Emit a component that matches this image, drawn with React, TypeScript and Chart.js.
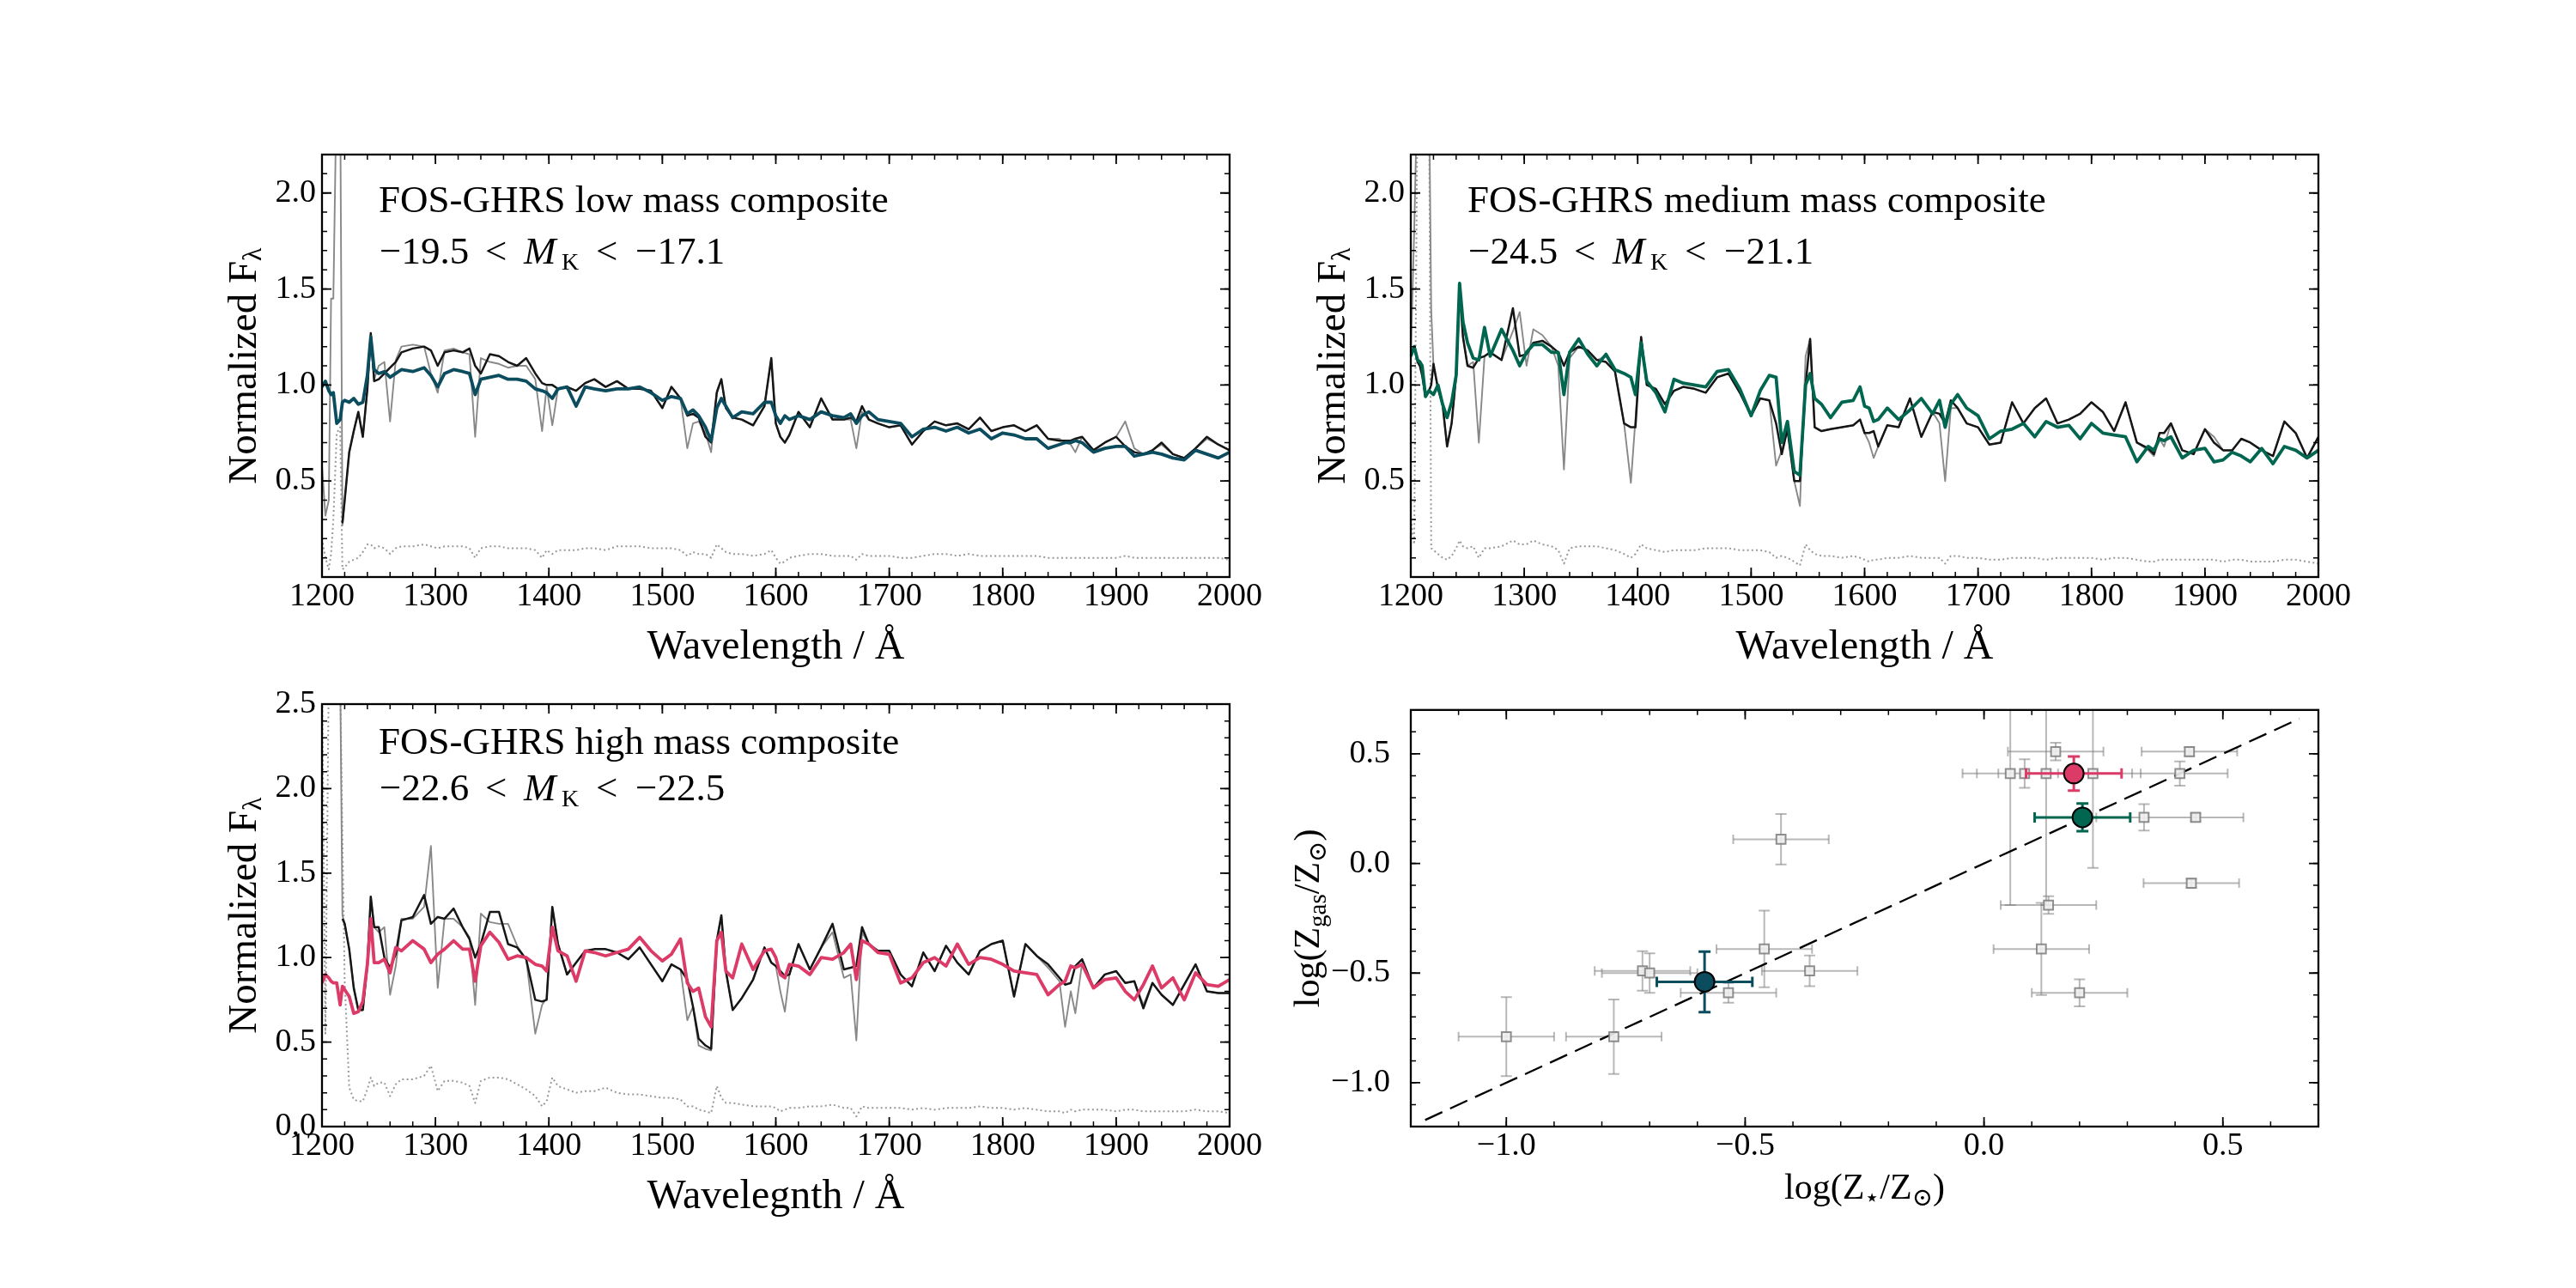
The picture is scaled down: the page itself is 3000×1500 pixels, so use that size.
import React, { useEffect, useRef } from "react";
import { Chart, registerables } from "chart.js";

Chart.register(...registerables);

// ---------------- DATA ----------------
const wavelengths = [
  1200, 1203, 1206, 1208, 1210, 1213, 1216, 1218, 1220, 1224,
  1228, 1232, 1236, 1240, 1243, 1246, 1250, 1255, 1260, 1265,
  1270, 1280, 1290, 1296, 1302, 1308, 1316, 1324, 1330, 1335,
  1340, 1348, 1356, 1364, 1372, 1380, 1388, 1394, 1398, 1403,
  1408, 1416, 1424, 1432, 1440, 1450, 1460, 1470, 1480, 1490,
  1500, 1508, 1516, 1522, 1527, 1532, 1538, 1543, 1548, 1552,
  1556, 1562, 1570, 1580, 1590, 1596, 1600, 1604, 1608, 1612,
  1620, 1630, 1640, 1650, 1660, 1666, 1671, 1676, 1682, 1690,
  1700, 1710, 1720, 1730, 1740, 1750, 1760, 1770, 1780, 1790,
  1800, 1810, 1820, 1830, 1840, 1850, 1855, 1860, 1864, 1870,
  1880, 1890, 1900, 1908, 1916, 1924, 1932, 1940, 1950, 1960,
  1970, 1980, 1990, 2000,
];

// low mass composite
const lowModel = [
  0.99, 1.02, 0.97, 0.95, 0.96, 0.80, 0.82, 0.91, 0.92, 0.91,
  0.93, 0.90, 0.91, 1.05, 1.25, 1.08, 1.06, 1.07, 1.04, 1.06,
  1.08, 1.07, 1.09, 1.05, 0.99, 1.06, 1.08, 1.07, 1.06, 0.95,
  1.03, 1.04, 1.05, 1.03, 1.03, 1.02, 0.98, 0.97, 0.96, 0.93,
  0.98, 0.99, 0.89, 0.99, 0.98, 0.97, 0.98, 0.98, 0.99, 0.96,
  0.92, 0.94, 0.93, 0.85, 0.87, 0.84, 0.78, 0.71, 0.88, 0.93,
  0.89, 0.83, 0.86, 0.85, 0.91, 0.91, 0.84, 0.80, 0.84, 0.82,
  0.84, 0.82, 0.86, 0.84, 0.83, 0.85, 0.80, 0.84, 0.86, 0.82,
  0.81, 0.80, 0.73, 0.77, 0.78, 0.76, 0.78, 0.75, 0.77, 0.72,
  0.75, 0.74, 0.72, 0.72, 0.67, 0.69, 0.70, 0.70, 0.71, 0.70,
  0.65, 0.67, 0.68, 0.68, 0.63, 0.64, 0.65, 0.64, 0.62, 0.61,
  0.66, 0.64, 0.62, 0.65,
];
const lowObserved = [
  null, null, null, null, null, null, null, 0.28, 0.40, 0.65,
  0.76, 0.86, 0.73, 0.98, 1.27, 1.02, 1.03, 1.06, 1.09, 1.12,
  1.17, 1.19, 1.20, 1.18, 1.10, 1.17, 1.18, 1.17, 1.19, 1.10,
  1.06, 1.16, 1.15, 1.12, 1.10, 1.14, 1.06, 1.01, 1.00, 1.00,
  0.98, 0.99, 0.97, 1.01, 1.03, 0.99, 1.02, 0.98, 0.98, 0.97,
  0.88, 0.99, 0.93, 0.84, 0.85, 0.83, 0.73, 0.70, 0.96, 1.03,
  0.88, 0.83, 0.82, 0.79, 0.89, 1.14, 0.80, 0.73, 0.70, 0.74,
  0.86, 0.78, 0.93, 0.82, 0.82, 0.83, 0.81, 0.89, 0.82, 0.80,
  0.78, 0.79, 0.69, 0.76, 0.81, 0.79, 0.80, 0.77, 0.83, 0.76,
  0.78, 0.79, 0.76, 0.79, 0.72, 0.71, 0.71, 0.71, 0.72, 0.73,
  0.66, 0.70, 0.73, 0.68, 0.65, 0.64, 0.66, 0.70, 0.64, 0.62,
  0.67, 0.73, 0.69, 0.66,
];
const lowFosGhrs = [
  0.58, 0.32, 0.40, 1.45, 1.45, 2.6, 2.6, 0.27, 0.40, 0.65,
  0.76, 0.86, 0.73, 0.98, 1.27, 1.03, 1.10, 1.12, 0.81, 1.13,
  1.20, 1.21, 1.20, 1.06, 0.96, 1.18, 1.19, 1.17, 1.16, 0.73,
  1.14, 1.12, 1.11, 1.09, 1.10, 1.10, 1.03, 0.76, 0.99, 0.79,
  0.98, 0.99, 0.97, 1.01, 1.03, 0.99, 1.02, 0.98, 0.98, 0.97,
  0.88, 0.99, 0.93, 0.67, 0.80, 0.81, 0.75, 0.65, 0.97, 1.03,
  0.88, 0.83, 0.82, 0.79, 0.89, 1.14, 0.80, 0.73, 0.70, 0.74,
  0.86, 0.78, 0.93, 0.82, 0.82, 0.82, 0.67, 0.86, 0.82, 0.80,
  0.78, 0.79, 0.69, 0.76, 0.81, 0.79, 0.80, 0.77, 0.83, 0.76,
  0.78, 0.79, 0.76, 0.79, 0.72, 0.72, 0.70, 0.69, 0.65, 0.73,
  0.66, 0.70, 0.73, 0.81, 0.67, 0.64, 0.66, 0.69, 0.64, 0.62,
  0.67, 0.72, 0.69, 0.66,
];
const lowError = [
  0.20, 0.10, 0.04, 0.12, 0.30, 0.75, 0.78, 0.04, 0.05, 0.08,
  0.09, 0.10, 0.13, 0.17, 0.17, 0.15, 0.16, 0.15, 0.12, 0.15,
  0.16, 0.16, 0.17, 0.16, 0.15, 0.16, 0.16, 0.16, 0.15, 0.10,
  0.15, 0.16, 0.16, 0.15, 0.15, 0.15, 0.14, 0.10, 0.14, 0.12,
  0.14, 0.14, 0.14, 0.15, 0.15, 0.14, 0.16, 0.16, 0.16, 0.15,
  0.15, 0.15, 0.14, 0.11, 0.13, 0.12, 0.12, 0.10, 0.17, 0.15,
  0.13, 0.12, 0.12, 0.11, 0.12, 0.14, 0.10, 0.07, 0.08, 0.10,
  0.11, 0.12, 0.12, 0.11, 0.11, 0.11, 0.09, 0.12, 0.11, 0.11,
  0.11, 0.10, 0.10, 0.11, 0.12, 0.12, 0.11, 0.12, 0.11, 0.11,
  0.11, 0.11, 0.11, 0.11, 0.10, 0.10, 0.10, 0.10, 0.10, 0.10,
  0.10, 0.10, 0.10, 0.11, 0.10, 0.10, 0.10, 0.10, 0.10, 0.10,
  0.10, 0.10, 0.10, 0.09,
];

// medium mass composite
const mediumModel = [
  1.15, 1.20, 1.13, 1.12, 1.10, 0.94, 0.97, 0.96, 0.95, 1.00,
  0.90, 0.83, 0.91, 1.05, 1.53, 1.33, 1.22, 1.14, 1.13, 1.30,
  1.15, 1.29, 1.18, 1.10, 1.17, 1.21, 1.21, 1.17, 1.17, 0.95,
  1.17, 1.24, 1.16, 1.10, 1.16, 1.08, 1.06, 1.04, 0.95, 1.22,
  1.02, 0.96, 0.86, 1.03, 1.01, 1.00, 0.99, 1.07, 1.08, 0.98,
  0.84, 0.97, 1.05, 1.04, 0.70, 0.81, 0.55, 0.53, 1.00, 1.06,
  0.93, 0.90, 0.83, 0.91, 0.92, 0.99, 0.89, 0.88, 0.81, 0.82,
  0.88, 0.82, 0.87, 0.93, 0.85, 0.92, 0.78, 0.90, 0.95, 0.88,
  0.84, 0.72, 0.76, 0.77, 0.80, 0.73, 0.81, 0.78, 0.79, 0.72,
  0.80, 0.75, 0.74, 0.73, 0.60, 0.68, 0.66, 0.72, 0.71, 0.73,
  0.62, 0.66, 0.67, 0.60, 0.61, 0.65, 0.63, 0.60, 0.67, 0.59,
  0.68, 0.66, 0.62, 0.66,
];
const mediumObserved = [
  1.15, 1.20, 1.12, 1.10, 1.05, 0.94, 0.97, 1.00, 1.11, 0.98,
  0.90, 0.68, 0.80, 1.05, 1.50, 1.25, 1.10, 1.09, 1.14, 1.15,
  1.17, 1.13, 1.40, 1.15, 1.16, 1.22, 1.23, 1.20, 1.17, 1.10,
  1.17, 1.20, 1.18, 1.13, 1.12, 1.07, 0.80, 0.78, 0.78, 1.25,
  1.00, 0.98, 0.90, 0.97, 0.99, 0.98, 0.96, 1.04, 1.06, 0.96,
  0.84, 0.93, 0.92, 0.80, 0.64, 0.77, 0.50, 0.50, 1.00, 1.24,
  0.78, 0.76, 0.77, 0.78, 0.79, 0.82, 0.75, 0.75, 0.76, 0.68,
  0.79, 0.78, 0.93, 0.73, 0.86, 0.85, 0.80, 0.92, 0.88, 0.80,
  0.78, 0.69, 0.70, 0.91, 0.80, 0.88, 0.93, 0.80, 0.82, 0.85,
  0.91, 0.86, 0.76, 0.91, 0.70, 0.67, 0.64, 0.75, 0.75, 0.80,
  0.66, 0.64, 0.77, 0.70, 0.66, 0.66, 0.72, 0.70, 0.66, 0.63,
  0.81, 0.75, 0.62, 0.73,
];
const mediumFosGhrs = [
  1.15, 1.80, 2.6, 2.6, 2.6, 2.6, 2.6, 1.39, 1.10, 0.98,
  0.90, 0.68, 0.80, 1.05, 1.50, 1.25, 1.10, 1.12, 0.70, 1.15,
  1.17, 1.13, 1.28, 1.38, 1.10, 1.29, 1.26, 1.20, 1.10, 0.56,
  1.14, 1.20, 1.18, 1.13, 1.15, 1.07, 0.80, 0.49, 0.82, 1.25,
  1.00, 0.98, 0.90, 0.97, 0.99, 0.98, 0.96, 1.04, 1.06, 0.96,
  0.84, 0.93, 0.92, 0.58, 0.66, 0.77, 0.50, 0.37, 1.15, 1.24,
  0.78, 0.76, 0.77, 0.78, 0.79, 0.82, 0.75, 0.70, 0.62, 0.68,
  0.79, 0.78, 0.93, 0.73, 0.86, 0.80, 0.50, 0.88, 0.88, 0.80,
  0.78, 0.69, 0.70, 0.91, 0.80, 0.88, 0.93, 0.80, 0.82, 0.85,
  0.91, 0.86, 0.76, 0.91, 0.70, 0.66, 0.63, 0.72, 0.68, 0.80,
  0.66, 0.64, 0.77, 0.73, 0.66, 0.66, 0.72, 0.70, 0.66, 0.63,
  0.81, 0.75, 0.62, 0.73,
];
const mediumError = [
  0.30, 0.17, 2.6, 2.6, 2.6, 2.6, 2.6, 0.15, 0.14, 0.12,
  0.10, 0.09, 0.11, 0.15, 0.19, 0.16, 0.15, 0.16, 0.10, 0.15,
  0.15, 0.16, 0.19, 0.17, 0.17, 0.19, 0.17, 0.16, 0.14, 0.07,
  0.15, 0.16, 0.16, 0.16, 0.15, 0.14, 0.12, 0.10, 0.12, 0.17,
  0.15, 0.14, 0.13, 0.14, 0.14, 0.14, 0.15, 0.15, 0.15, 0.14,
  0.14, 0.14, 0.13, 0.10, 0.11, 0.10, 0.08, 0.06, 0.17, 0.14,
  0.12, 0.11, 0.11, 0.10, 0.11, 0.10, 0.09, 0.08, 0.09, 0.09,
  0.10, 0.10, 0.11, 0.10, 0.10, 0.10, 0.07, 0.11, 0.11, 0.10,
  0.10, 0.09, 0.09, 0.10, 0.10, 0.10, 0.09, 0.10, 0.10, 0.10,
  0.10, 0.09, 0.10, 0.10, 0.09, 0.08, 0.08, 0.09, 0.09, 0.09,
  0.09, 0.09, 0.09, 0.09, 0.08, 0.09, 0.09, 0.08, 0.08, 0.08,
  0.09, 0.09, 0.08, 0.07,
];

// high mass composite
const highModel = [
  0.85, 0.90, 0.88, 0.86, 0.85, 0.85, 0.72, 0.83, 0.81, 0.77,
  0.67, 0.68, 0.74, 0.96, 1.23, 0.97, 0.97, 0.99, 0.91, 1.06,
  1.04, 1.10, 1.05, 0.97, 1.02, 1.05, 1.10, 1.05, 1.05, 0.86,
  1.07, 1.15, 1.09, 0.99, 1.01, 1.00, 0.96, 0.95, 0.92, 1.18,
  1.04, 1.01, 0.86, 1.04, 1.03, 1.01, 1.03, 1.05, 1.12, 1.04,
  0.98, 1.02, 1.11, 0.85, 0.80, 0.82, 0.65, 0.59, 1.10, 1.15,
  0.92, 0.88, 1.08, 0.93, 1.04, 1.05, 1.00, 0.90, 0.88, 0.96,
  0.95, 0.90, 1.00, 0.99, 1.03, 1.08, 0.87, 1.10, 1.08, 1.03,
  1.02, 0.85, 0.88, 0.97, 1.00, 0.95, 1.08, 0.96, 1.00, 0.99,
  0.96, 0.92, 0.91, 0.90, 0.78, 0.84, 0.86, 0.95, 0.94, 0.96,
  0.82, 0.87, 0.88, 0.80, 0.75, 0.84, 0.95, 0.82, 0.88, 0.75,
  0.91, 0.84, 0.83, 0.87,
];
const highObserved = [
  null, null, null, null, null, null, null, 1.23, 1.20, 1.05,
  0.82, 0.69, 0.69, 0.96, 1.36, 1.18, 1.18, 1.00, 0.94, 1.02,
  1.22, 1.24, 1.37, 1.20, 1.24, 1.23, 1.29, 1.18, 1.11, 1.00,
  1.08, 1.27, 1.27, 1.08, 1.06, 0.99, 0.75, 0.74, 0.75, 1.30,
  1.08, 0.90, 0.97, 1.04, 1.05, 1.05, 1.03, 0.99, 1.06, 0.96,
  0.86, 0.96, 0.93, 0.87, 0.71, 0.52, 0.48, 0.46, 1.10, 1.25,
  0.92, 0.69, 0.76, 0.87, 1.06, 0.97, 0.95, 0.92, 0.89, 0.90,
  1.08, 0.93, 1.06, 1.20, 0.93, 0.94, 0.95, 1.18, 1.08, 1.04,
  1.04, 0.90, 0.83, 1.03, 0.92, 1.07, 0.97, 0.90, 1.04, 1.08,
  1.10, 0.77, 1.08, 1.01, 0.96, 0.88, 0.84, 0.85, 0.95, 0.99,
  0.82, 0.90, 0.92, 0.85, 0.86, 0.70, 0.85, 0.78, 0.72, 0.84,
  0.96, 0.80, 0.79, 0.79,
];
const highFosGhrs = [
  2.7, 2.7, 2.7, 2.7, 2.7, 2.7, 2.7, 1.25, 1.20, 1.05,
  0.82, 0.69, 0.69, 0.96, 1.36, 1.18, 1.15, 1.18, 0.78, 0.95,
  1.23, 1.23, 1.30, 1.66, 0.82, 1.23, 1.23, 1.18, 1.12, 0.72,
  1.26, 1.21, 1.20, 1.20, 1.07, 0.99, 0.55, 0.72, 0.76, 1.30,
  1.08, 0.90, 0.97, 1.04, 1.05, 1.05, 1.03, 0.99, 1.06, 0.96,
  0.86, 0.96, 0.93, 0.63, 0.71, 0.48, 0.46, 0.45, 1.10, 1.25,
  0.92, 0.69, 0.76, 0.87, 1.06, 0.97, 0.95, 0.80, 0.68, 0.90,
  1.08, 0.93, 1.06, 1.15, 0.88, 0.90, 0.51, 1.15, 1.08, 1.04,
  1.04, 0.90, 0.83, 1.03, 0.92, 1.07, 0.97, 0.90, 1.04, 1.08,
  1.10, 0.77, 1.08, 1.01, 0.94, 0.86, 0.59, 0.80, 0.67, 0.97,
  0.82, 0.90, 0.92, 0.85, 0.86, 0.72, 0.85, 0.78, 0.72, 0.84,
  0.96, 0.80, 0.79, 0.79,
];
const highError = [
  2.7, 0.55, 2.7, 2.7, 2.7, 2.7, 2.7, 1.70, 0.86, 0.23,
  0.16, 0.15, 0.15, 0.22, 0.29, 0.24, 0.26, 0.26, 0.18, 0.25,
  0.28, 0.28, 0.30, 0.36, 0.21, 0.27, 0.27, 0.26, 0.24, 0.14,
  0.27, 0.29, 0.29, 0.28, 0.25, 0.22, 0.18, 0.12, 0.15, 0.29,
  0.24, 0.22, 0.20, 0.21, 0.21, 0.23, 0.20, 0.19, 0.19, 0.18,
  0.17, 0.17, 0.16, 0.12, 0.12, 0.10, 0.09, 0.08, 0.24, 0.17,
  0.14, 0.14, 0.13, 0.12, 0.12, 0.12, 0.11, 0.09, 0.10, 0.11,
  0.11, 0.12, 0.12, 0.13, 0.11, 0.11, 0.06, 0.12, 0.11, 0.11,
  0.11, 0.11, 0.10, 0.11, 0.10, 0.11, 0.11, 0.11, 0.12, 0.11,
  0.11, 0.10, 0.11, 0.10, 0.09, 0.09, 0.08, 0.10, 0.09, 0.10,
  0.10, 0.10, 0.09, 0.10, 0.10, 0.09, 0.09, 0.09, 0.09, 0.09,
  0.10, 0.09, 0.09, 0.08,
];

// tick labels
const wavelengthTicks = [1200, 1300, 1400, 1500, 1600, 1700, 1800, 1900, 2000];
const fluxTicksTop = [0.5, 1.0, 1.5, 2.0];
const fluxTicksBottom = [0.0, 0.5, 1.0, 1.5, 2.0, 2.5];
const metallicityTicks = [-1.0, -0.5, 0.0, 0.5];

// panel texts
const compositeTitles = [
  "FOS-GHRS low mass composite",
  "FOS-GHRS medium mass composite",
  "FOS-GHRS high mass composite",
];
const magnitudeLow = ["\u221219.5", "\u221224.5", "\u221222.6"];
const magnitudeHigh = ["\u221217.1", "\u221221.1", "\u221222.5"];
const xAxisTitles = ["Wavelength / \u00c5", "Wavelength / \u00c5", "Wavelegnth / \u00c5"];

// scatter: individual galaxies
const sampleZstar = [-1.0, -0.775, -0.715, -0.70, -0.535, -0.46, -0.365, -0.425, 0.055, 0.085, 0.13, 0.228, 0.15, 0.43, 0.41, 0.335, 0.443, 0.434, 0.135, 0.12, 0.20];
const sampleZgas = [-0.79, -0.79, -0.49, -0.50, -0.59, -0.39, -0.49, 0.11, 0.41, 0.41, 0.41, 0.41, 0.51, 0.51, 0.41, 0.21, 0.21, -0.09, -0.19, -0.39, -0.59];
const sampleZstarErr = [0.10, 0.10, 0.10, 0.10, 0.10, 0.10, 0.10, 0.10, 0.10, 0.10, 0.10, 0.10, 0.10, 0.10, 0.10, 0.10, 0.10, 0.10, 0.10, 0.10, 0.10];
const sampleZgasErr = [0.18, 0.17, 0.09, 0.09, 0.045, 0.175, 0.07, 0.115, 0.60, 0.065, 0.60, 0.43, 0.04, 0.02, 0.055, 0.06, 0.017, 0.02, 0.04, 0.21, 0.062];

// scatter: composites (low, medium, high)
const compositeZstar = [-0.585, 0.206, 0.188];
const compositeZgas = [-0.54, 0.21, 0.41];
const compositeZstarErr = [0.10, 0.10, 0.10];
const compositeZgasErr = [0.138, 0.063, 0.078];
const oneToOne = [-1.17, 0.66];

// ---------------- STYLE / LAYOUT ----------------
const FONT = "'Liberation Serif', 'DejaVu Serif', serif";
const COLORS = ["#0b4c5e", "#00664f", "#dc3a67"];
const PW = 1057;
const PH = 492;
const ML = 230;
const MR = 40;
const MT = 40;
const MB = 140;
const PANELS = [
  { l: 375, t: 180 },
  { l: 1643, t: 180 },
  { l: 375, t: 820 },
  { l: 1643, t: 820 },
];

type Tok = { t: string; size: number; italic?: boolean; dy?: number; at?: number };

const fontOf = (tk: Tok) => `${tk.italic ? "italic " : ""}${tk.size}px ${FONT}`;

function drawTokens(ctx: CanvasRenderingContext2D, toks: Tok[], x: number, y: number, align: "left" | "center") {
  const widths = toks.map((tk) => {
    ctx.font = fontOf(tk);
    return ctx.measureText(tk.t).width;
  });
  const total = widths.reduce((a, b) => a + b, 0);
  let cx = align === "center" ? x - total / 2 : x;
  toks.forEach((tk, i) => {
    if (tk.at !== undefined) cx = x + tk.at;
    ctx.font = fontOf(tk);
    ctx.fillText(tk.t, cx, y + (tk.dy || 0));
    cx += widths[i];
  });
}

function range(a: number, b: number, step: number) {
  const out: number[] = [];
  const n = Math.round((b - a) / step);
  for (let i = 0; i <= n; i++) out.push(+(a + i * step).toFixed(6));
  return out;
}

function framePlugin(xMajor: number[], xMinor: number[], yMajor: number[], yMinor: number[]) {
  return {
    id: "frameTicks",
    afterDatasetsDraw(chart: any) {
      const { ctx, chartArea: a, scales } = chart;
      const xs = scales.x;
      const ys = scales.y;
      ctx.save();
      ctx.strokeStyle = "#000";
      const drawX = (vals: number[], len: number, lw: number) => {
        ctx.lineWidth = lw;
        ctx.beginPath();
        vals.forEach((v) => {
          const p = xs.getPixelForValue(v);
          if (p <= a.left + 1 || p >= a.right - 1) return;
          ctx.moveTo(p, a.bottom);
          ctx.lineTo(p, a.bottom - len);
          ctx.moveTo(p, a.top);
          ctx.lineTo(p, a.top + len);
        });
        ctx.stroke();
      };
      const drawY = (vals: number[], len: number, lw: number) => {
        ctx.lineWidth = lw;
        ctx.beginPath();
        vals.forEach((v) => {
          const p = ys.getPixelForValue(v);
          if (p <= a.top + 1 || p >= a.bottom - 1) return;
          ctx.moveTo(a.left, p);
          ctx.lineTo(a.left + len, p);
          ctx.moveTo(a.right, p);
          ctx.lineTo(a.right - len, p);
        });
        ctx.stroke();
      };
      drawX(xMinor, 6, 1.5);
      drawY(yMinor, 6, 1.5);
      drawX(xMajor, 11, 1.8);
      drawY(yMajor, 11, 1.8);
      ctx.lineWidth = 2.3;
      ctx.strokeRect(a.left, a.top, a.right - a.left, a.bottom - a.top);
      ctx.restore();
    },
  };
}

type TextSpec = {
  lines: { tokens: Tok[]; dx: number; dy: number }[];
  xlabel: Tok[];
  xlabelDy: number;
  ylabel: Tok[];
  ylabelDx: number;
};

function textPlugin(spec: TextSpec) {
  return {
    id: "panelTexts",
    afterDraw(chart: any) {
      const { ctx, chartArea: a } = chart;
      ctx.save();
      ctx.fillStyle = "#000";
      ctx.textBaseline = "alphabetic";
      ctx.textAlign = "left";
      spec.lines.forEach((ln) => drawTokens(ctx, ln.tokens, a.left + ln.dx, a.top + ln.dy, "left"));
      drawTokens(ctx, spec.xlabel, (a.left + a.right) / 2, a.bottom + spec.xlabelDy, "center");
      ctx.translate(a.left - spec.ylabelDx, (a.top + a.bottom) / 2);
      ctx.rotate(-Math.PI / 2);
      drawTokens(ctx, spec.ylabel, 0, 0, "center");
      ctx.restore();
    },
  };
}

const tickFont = { family: FONT, size: 38, lineHeight: 1.2 };
const fmtMinus = (v: number) => (v < 0 ? "\u2212" : "") + Math.abs(v).toFixed(1);

function axis(min: number, max: number, ticks: number[], fmt: (v: number) => string, isX: boolean, pad: number) {
  return {
    type: "linear",
    min,
    max,
    afterBuildTicks: (s: any) => {
      s.ticks = ticks.map((v) => ({ value: v }));
    },
    afterFit: (s: any) => {
      if (isX) s.height = MB;
      else s.width = ML;
    },
    grid: { display: false, drawTicks: false },
    border: { display: false },
    ticks: {
      font: tickFont,
      color: "#000",
      padding: pad,
      autoSkip: false,
      maxRotation: 0,
      minRotation: 0,
      callback: (v: any) => fmt(Number(v)),
    },
  };
}

function magnitudeTokens(lo: string, hi: string): Tok[] {
  return [
    { t: lo, size: 45, at: 0 },
    { t: "<", size: 45, at: 123 },
    { t: "M", size: 45, italic: true, at: 168 },
    { t: "K", size: 28, at: 212, dy: 7 },
    { t: "<", size: 45, at: 252 },
    { t: hi, size: 45, at: 298 },
  ];
}

function spectrumConfig(i: number) {
  const sets = [
    [lowModel, lowObserved, lowFosGhrs, lowError],
    [mediumModel, mediumObserved, mediumFosGhrs, mediumError],
    [highModel, highObserved, highFosGhrs, highError],
  ][i];
  const xy = (arr: (number | null)[]) => wavelengths.map((w, k) => ({ x: w, y: arr[k] }));
  const common = { pointRadius: 0, tension: 0, clip: 0, fill: false, borderJoinStyle: "round" };
  const bottom = i === 2;
  const lineDy = bottom ? [58.3, 111.7] : [67.3, 126.7];
  const spec: TextSpec = {
    lines: [
      { tokens: [{ t: compositeTitles[i], size: 45 }], dx: 66, dy: lineDy[0] },
      { tokens: magnitudeTokens(magnitudeLow[i], magnitudeHigh[i]), dx: 67, dy: lineDy[1] },
    ],
    xlabel: [{ t: xAxisTitles[i], size: 48 }],
    xlabelDy: 95,
    ylabel: [
      { t: "Normalized F", size: 47 },
      { t: "\u03bb", size: 32, dy: 6 },
    ],
    ylabelDx: 77,
  };
  const yMax = bottom ? 2.5 : 2.2;
  return {
    type: "line",
    data: {
      datasets: [
        { ...common, data: xy(sets[0]), borderColor: COLORS[i], borderWidth: 3.8 },
        { ...common, data: xy(sets[1]), borderColor: "#161616", borderWidth: 2.5 },
        { ...common, data: xy(sets[2]), borderColor: "#888888", borderWidth: 1.9 },
        { ...common, data: xy(sets[3]), borderColor: "#999999", borderWidth: 2, borderDash: [2, 3.2] },
      ],
    },
    options: {
      animation: false,
      responsive: false,
      devicePixelRatio: 1,
      events: [],
      layout: { padding: { left: 0, right: MR, top: MT, bottom: 0 } },
      plugins: { legend: { display: false }, tooltip: { enabled: false } },
      scales: {
        x: axis(1200, 2000, wavelengthTicks, (v) => String(v), true, 0),
        y: axis(0, yMax, bottom ? fluxTicksBottom : fluxTicksTop, (v) => v.toFixed(1), false, 7),
      },
    },
    plugins: [
      framePlugin(wavelengthTicks, range(1200, 2000, 20), bottom ? fluxTicksBottom : fluxTicksTop, range(0, yMax, 0.1)),
      textPlugin(spec),
    ],
  };
}

function scatterConfig() {
  const vb = (xs: number[], ys: number[], es: number[]) =>
    xs.flatMap((x, k) => [{ x, y: ys[k] - es[k] }, { x, y: ys[k] + es[k] }, { x, y: null }]);
  const hb = (xs: number[], ys: number[], es: number[]) =>
    xs.flatMap((x, k) => [{ x: x - es[k], y: ys[k] }, { x: x + es[k], y: ys[k] }, { x, y: null }]);
  const grey = "rgba(125,125,125,0.55)";
  const datasets: any[] = [];
  COLORS.forEach((c, k) => {
    datasets.push({
      data: [{ x: compositeZstar[k], y: compositeZgas[k] }],
      pointStyle: "circle",
      pointRadius: 11.5,
      backgroundColor: c,
      borderColor: "#000",
      borderWidth: 2,
      showLine: false,
    });
  });
  COLORS.forEach((c, k) => {
    datasets.push({
      data: vb([compositeZstar[k]], [compositeZgas[k]], [compositeZgasErr[k]]),
      showLine: true, borderColor: c, borderWidth: 3, pointStyle: "line", pointRadius: 7,
      pointBorderColor: c, pointBorderWidth: 3, pointRotation: 0, clip: 0,
    });
    datasets.push({
      data: hb([compositeZstar[k]], [compositeZgas[k]], [compositeZstarErr[k]]),
      showLine: true, borderColor: c, borderWidth: 3, pointStyle: "line", pointRadius: 6,
      pointBorderColor: c, pointBorderWidth: 3, pointRotation: 90, clip: 0,
    });
  });
  datasets.push({
    data: sampleZstar.map((x, k) => ({ x, y: sampleZgas[k] })),
    pointStyle: "rect",
    pointRadius: 7.6,
    backgroundColor: "rgba(238,238,238,0.9)",
    borderColor: "rgba(125,125,125,0.85)",
    borderWidth: 2,
    showLine: false,
  });
  datasets.push({
    data: oneToOne.map((v) => ({ x: v, y: v })),
    showLine: true, borderColor: "#000", borderWidth: 2.3, borderDash: [22, 10], pointRadius: 0, clip: 0,
  });
  datasets.push({
    data: vb(sampleZstar, sampleZgas, sampleZgasErr),
    showLine: true, borderColor: grey, borderWidth: 2, pointStyle: "line", pointRadius: 6.5,
    pointBorderColor: grey, pointBorderWidth: 2, pointRotation: 0, clip: 0,
  });
  datasets.push({
    data: hb(sampleZstar, sampleZgas, sampleZstarErr),
    showLine: true, borderColor: grey, borderWidth: 2, pointStyle: "line", pointRadius: 5.5,
    pointBorderColor: grey, pointBorderWidth: 2, pointRotation: 90, clip: 0,
  });
  const spec: TextSpec = {
    lines: [],
    xlabel: [
      { t: "log(Z", size: 42 },
      { t: "\u22c6", size: 29, dy: 8 },
      { t: "/Z", size: 42 },
      { t: "\u2299", size: 29, dy: 8 },
      { t: ")", size: 42 },
    ],
    xlabelDy: 84,
    ylabel: [
      { t: "log(Z", size: 42 },
      { t: "gas", size: 29, dy: 8 },
      { t: "/Z", size: 42 },
      { t: "\u2299", size: 29, dy: 8 },
      { t: ")", size: 42 },
    ],
    ylabelDx: 107,
  };
  return {
    type: "scatter",
    data: { datasets },
    options: {
      animation: false,
      responsive: false,
      devicePixelRatio: 1,
      events: [],
      layout: { padding: { left: 0, right: MR, top: MT, bottom: 0 } },
      plugins: { legend: { display: false }, tooltip: { enabled: false } },
      scales: {
        x: axis(-1.2, 0.7, metallicityTicks, fmtMinus, true, 0),
        y: axis(-1.2, 0.7, metallicityTicks, fmtMinus, false, 24),
      },
    },
    plugins: [
      framePlugin(metallicityTicks, range(-1.2, 0.7, 0.1), metallicityTicks, range(-1.2, 0.7, 0.1)),
      textPlugin(spec),
    ],
  };
}

export default function App() {
  const r0 = useRef<HTMLCanvasElement | null>(null);
  const r1 = useRef<HTMLCanvasElement | null>(null);
  const r2 = useRef<HTMLCanvasElement | null>(null);
  const r3 = useRef<HTMLCanvasElement | null>(null);
  const refs = [r0, r1, r2, r3];

  useEffect(() => {
    const configs: any[] = [spectrumConfig(0), spectrumConfig(1), spectrumConfig(2), scatterConfig()];
    const charts = refs.map((r, i) => new Chart(r.current as HTMLCanvasElement, configs[i]));
    return () => charts.forEach((c) => c.destroy());
  }, []);

  const cw = PW + ML + MR;
  const ch = PH + MT + MB;
  return (
    <div style={{ position: "absolute", left: 0, top: 0, width: 3000, height: 1500, background: "#fff", overflow: "hidden" }}>
      {PANELS.map((p, i) => (
        <canvas
          key={i}
          ref={refs[i]}
          width={cw}
          height={ch}
          style={{ position: "absolute", left: p.l - ML, top: p.t - MT, width: cw, height: ch }}
        />
      ))}
    </div>
  );
}
